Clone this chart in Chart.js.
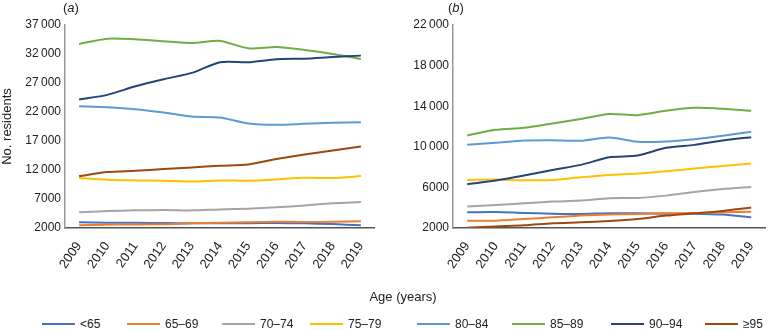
<!DOCTYPE html>
<html><head><meta charset="utf-8">
<script src="https://cdn.jsdelivr.net/npm/chart.js@4"></script>
<style>
body{margin:0;width:775px;height:330px;position:relative;background:#fff;font-family:"Liberation Sans",Arial,sans-serif;overflow:hidden;color:#222}
.box{position:absolute;top:0;height:290px;width:385px}
.panel{position:absolute;top:0;font-size:13px;line-height:16px}
#xtitle{position:absolute;left:0;width:806px;text-align:center;top:289px;font-size:13px;line-height:16px}
.leg{position:absolute;top:316px;height:16px;font-size:12px;line-height:16px;white-space:nowrap}
.leg span.ln{display:inline-block;width:33px;height:2px;vertical-align:middle;margin-right:5px;position:relative;top:-1px}
</style></head>
<body>
<div class="box" style="left:0"><canvas id="ca" width="385" height="290"></canvas></div>
<div class="box" style="left:390px"><canvas id="cb" width="385" height="290"></canvas></div>
<div class="panel" style="left:63px">(<i>a</i>)</div>
<div class="panel" style="left:448px">(<i>b</i>)</div>
<div id="xtitle">Age (years)</div>
<div id="legend"></div>
<script>
const years = ['2009','2010','2011','2012','2013','2014','2015','2016','2017','2018','2019'];
const seriesNames = ['<65','65–69','70–74','75–79','80–84','85–89','90–94','≥95'];
const seriesColors = ['#4472C4','#ED7D31','#A5A5A5','#FFC000','#5B9BD5','#70AD47','#264478','#9E480E'];

// Panel (a)
const a_lt65 = [2980, 2920, 2900, 2850, 2800, 2820, 2830, 2860, 2800, 2690, 2460];
const a_6569 = [2460, 2570, 2600, 2630, 2800, 2920, 2980, 3090, 3030, 3090, 3150];
const a_7074 = [4700, 4930, 5040, 5100, 5040, 5210, 5330, 5560, 5900, 6250, 6480];
const a_7579 = [10610, 10320, 10210, 10150, 10030, 10210, 10150, 10380, 10660, 10610, 10950];
const a_8084 = [23000, 22830, 22490, 21910, 21220, 21050, 20020, 19790, 19960, 20130, 20250];
const a_8589 = [33730, 34650, 34530, 34190, 33900, 34250, 32990, 33210, 32700, 32010, 31150];
const a_9094 = [24150, 24950, 26440, 27650, 28740, 30570, 30570, 31090, 31200, 31490, 31720];
const a_95   = [10950, 11640, 11870, 12160, 12440, 12730, 12960, 13880, 14680, 15370, 16060];

// Panel (b)
const b_lt65 = [3550, 3580, 3480, 3410, 3380, 3450, 3450, 3410, 3410, 3320, 3050];
const b_6569 = [2720, 2720, 2890, 3050, 3220, 3320, 3380, 3450, 3480, 3550, 3610];
const b_7074 = [4110, 4270, 4430, 4600, 4700, 4930, 4960, 5190, 5550, 5850, 6050];
const b_7579 = [6740, 6770, 6700, 6740, 7000, 7230, 7360, 7590, 7860, 8120, 8350];
const b_8084 = [10190, 10390, 10620, 10650, 10590, 10920, 10490, 10520, 10750, 11080, 11480];
const b_8589 = [11110, 11670, 11870, 12300, 12730, 13220, 13120, 13550, 13840, 13750, 13550];
const b_9094 = [6310, 6670, 7170, 7720, 8220, 8970, 9140, 9900, 10190, 10620, 10950];
const b_95   = [2030, 2160, 2260, 2460, 2560, 2690, 2890, 3220, 3450, 3680, 4010];

const aTickLabels = ['2000','7000','12\u2009000','17\u2009000','22\u2009000','27\u2009000','32\u2009000','37\u2009000'];
const bTickLabels = ['2000','6000','10\u2009000','14\u2009000','18\u2009000','22\u2009000'];

const aSeries = [a_lt65,a_6569,a_7074,a_7579,a_8084,a_8589,a_9094,a_95];
const bSeries = [b_lt65,b_6569,b_7074,b_7579,b_8084,b_8589,b_9094,b_95];

const FONT = '"Liberation Sans", Arial, sans-serif';

function makeChart(id, series, ymin, ymax, step, tickLabels, yWidth, padRight, yTitle) {
  const datasets = series.map((d, i) => ({
    label: seriesNames[i], data: d, borderColor: seriesColors[i], backgroundColor: seriesColors[i],
    borderWidth: 2, pointRadius: 0, tension: 0.25, fill: false
  })).reverse();
  return new Chart(document.getElementById(id), {
    type: 'line',
    data: { labels: years, datasets },
    options: {
      responsive: false, animation: false, devicePixelRatio: 1,
      layout: { padding: { top: 25, right: padRight, left: 0, bottom: 0 } },
      plugins: { legend: { display: false }, tooltip: { enabled: false } },
      scales: {
        x: {
          offset: true,
          grid: { display: false, drawTicks: false },
          border: { display: true, color: '#555', width: 1.5 },
          ticks: { color: '#222', font: { family: FONT, size: 13 }, minRotation: 55, maxRotation: 55, padding: 11, autoSkip: false },
          afterFit: s => { s.height = 62; }
        },
        y: {
          min: ymin, max: ymax,
          grid: { display: false, drawTicks: false },
          border: { display: true, color: '#999', width: 1.5 },
          ticks: { stepSize: step, color: '#222', font: { family: FONT, size: 12 }, padding: 4,
                   callback: (v, i) => tickLabels[i] },
          title: { display: !!yTitle, text: yTitle || '', color: '#222', font: { family: FONT, size: 13 }, padding: 0 },
          afterFit: s => { s.width = yWidth; }
        }
      }
    }
  });
}

makeChart('ca', aSeries, 2000, 37000, 5000, aTickLabels, 65, 7, 'No. residents');
makeChart('cb', bSeries, 2000, 22000, 4000, bTickLabels, 63, 0, '');

const legendX = [42, 127, 222, 310, 417, 512, 611, 705];
const leg = document.getElementById('legend');
seriesNames.forEach((n, i) => {
  const d = document.createElement('div');
  d.className = 'leg';
  d.style.left = legendX[i] + 'px';
  const ln = document.createElement('span');
  ln.className = 'ln'; ln.style.background = seriesColors[i];
  d.appendChild(ln);
  d.appendChild(document.createTextNode(n));
  leg.appendChild(d);
});
</script>
</body></html>
